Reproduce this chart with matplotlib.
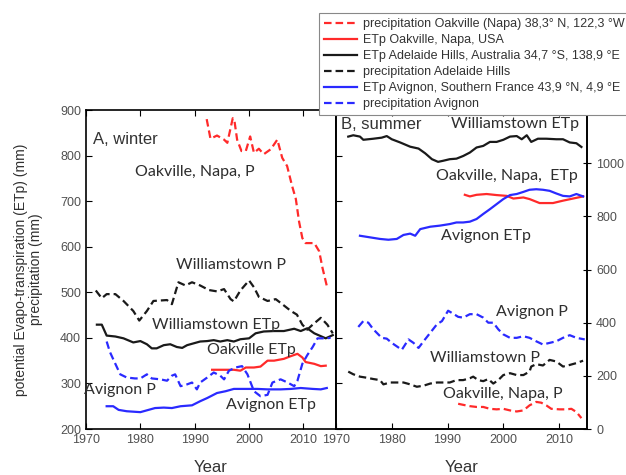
import matplotlib.pyplot as plt
import numpy as np

# フォント
plt.rcParams['font.family'] = ['Liberation Sans', 'DejaVu Sans']

# ---- A, winter (左軸 200-900 mm) ----
w_oak_p_yr = [1992.2, 1992.9, 1994.1, 1995.4, 1996.0, 1997.0, 1997.3, 1997.8, 1998.6, 1999.4, 2000.2,
              2000.9, 2001.8, 2002.7, 2004.0, 2005.2, 2006.1, 2007.0, 2007.9, 2008.6, 2009.2, 2009.8,
              2010.4, 2012.0, 2012.9, 2013.5, 2014.3]
w_oak_p = [880, 837, 844, 835, 828, 882, 877, 835, 810, 810, 842, 806, 815, 803, 814, 835, 795, 777,
           734, 705, 655, 619, 608, 608, 590, 554, 514]

w_oak_et_yr = [1993.2, 1997.2, 1998.4, 1999.4, 2000.9, 2002.1, 2003.4, 2004.6, 2006.4, 2007.7, 2008.9,
               2009.8, 2010.4, 2012.0, 2013.2, 2014.1]
w_oak_et = [330, 330, 328, 335, 335, 337, 350, 350, 354, 360, 365, 357, 347, 343, 338, 339]

w_will_p_yr = [1971.8, 1972.9, 1973.8, 1975.4, 1976.9, 1978.7, 1979.8, 1981.2, 1982.4, 1984.9, 1985.8,
               1987.0, 1988.3, 1989.5, 1991.0, 1992.6, 1994.1, 1995.4, 1996.6, 1997.2, 1998.4, 2000.0,
               2000.9, 2001.8, 2003.4, 2004.9, 2006.1, 2007.7, 2008.8, 2009.8, 2010.7, 2011.7, 2013.2,
               2014.4, 2015.4]
w_will_p = [504, 487, 496, 496, 481, 459, 438, 459, 481, 483, 474, 522, 515, 522, 515, 505, 502, 507,
            485, 480, 504, 526, 511, 490, 481, 485, 474, 459, 451, 429, 418, 429, 444, 429, 410]

w_will_et_yr = [1972.0, 1972.9, 1973.8, 1975.4, 1976.9, 1978.7, 1980.0, 1981.2, 1982.1, 1983.0, 1984.3,
                1985.5, 1986.7, 1987.7, 1988.6, 1989.8, 1991.0, 1992.3, 1993.5, 1994.7, 1996.0, 1997.2,
                1998.4, 2000.0, 2001.2, 2002.7, 2004.6, 2006.4, 2008.3, 2009.5, 2010.7, 2012.0, 2014.1,
                2015.4]
w_will_et = [429, 429, 405, 403, 399, 390, 393, 386, 377, 377, 384, 386, 380, 378, 384, 388, 392, 393,
             395, 392, 395, 392, 397, 399, 410, 414, 415, 415, 420, 415, 421, 410, 399, 406]

w_avi_p_yr = [1973.8, 1974.4, 1975.4, 1976.3, 1977.5, 1979.0, 1980.0, 1981.2, 1982.1, 1983.7, 1984.9,
              1985.8, 1986.4, 1987.4, 1988.6, 1989.5, 1990.4, 1991.0, 1992.3, 1993.5, 1994.7, 1995.4,
              1996.3, 1997.5, 1998.7, 1999.7, 2000.9, 2002.1, 2003.4, 2004.3, 2005.8, 2007.1, 2008.3,
              2008.9, 2009.8, 2010.7, 2011.7, 2012.6, 2014.1, 2015.0]
w_avi_p = [392, 369, 343, 320, 313, 311, 311, 320, 311, 309, 306, 317, 320, 294, 298, 302, 287, 302,
           313, 324, 317, 309, 328, 335, 338, 320, 283, 272, 275, 302, 309, 302, 294, 306, 343, 362,
           380, 399, 399, 400]

w_avi_et_yr = [1973.8, 1975.0, 1976.0, 1977.5, 1980.0, 1981.5, 1982.7, 1984.3, 1985.8, 1987.4, 1989.5,
               1991.0, 1992.3, 1994.1, 1995.7, 1997.2, 1999.7, 2001.5, 2003.4, 2005.8, 2007.7, 2009.5,
               2011.7, 2013.2, 2014.3]
w_avi_et = [250, 250, 242, 239, 237, 242, 246, 247, 246, 250, 252, 261, 268, 279, 283, 288, 288, 288,
            287, 287, 288, 290, 288, 287, 290]

# ---- B, summer (右軸 0-1200 mm) ----
s_will_et_yr = [1972.2, 1973.1, 1974.3, 1974.9, 1976.7, 1978.2, 1979.1, 1980.0, 1981.5, 1983.3, 1984.8,
                1986.0, 1987.2, 1988.3, 1989.2, 1990.4, 1991.6, 1992.8, 1994.0, 1995.2, 1996.4, 1997.6,
                1998.8, 2000.0, 2001.2, 2002.4, 2003.3, 2004.2, 2005.0, 2006.2, 2007.7, 2009.5, 2010.7,
                2011.9, 2013.1, 2014.0]
s_will_et = [1100, 1105, 1100, 1088, 1092, 1096, 1102, 1090, 1078, 1062, 1055, 1037, 1015, 1005, 1009,
             1015, 1017, 1027, 1040, 1059, 1065, 1080, 1080, 1088, 1100, 1102, 1090, 1105, 1080, 1092,
             1092, 1090, 1090, 1078, 1075, 1061]

s_oak_et_yr = [1993.1, 1994.0, 1995.2, 1997.0, 1998.8, 2000.6, 2001.8, 2003.6, 2004.7, 2006.5, 2007.7,
               2008.9, 2010.7, 2012.5, 2014.3]
s_oak_et = [881, 875, 881, 884, 880, 877, 867, 871, 865, 850, 850, 850, 859, 867, 875]

s_avi_et_yr = [1974.3, 1976.1, 1977.9, 1979.4, 1980.9, 1982.1, 1983.3, 1984.2, 1985.1, 1986.9, 1988.6,
               1990.4, 1991.6, 1992.8, 1994.0, 1995.2, 1996.4, 1997.6, 1998.8, 2000.0, 2001.2, 2002.4,
               2003.6, 2004.7, 2005.9, 2007.1, 2008.3, 2009.5, 2010.7, 2011.9, 2013.1, 2014.3]
s_avi_et = [727, 721, 715, 712, 715, 730, 735, 727, 752, 761, 765, 771, 777, 777, 780, 790, 809, 827,
            846, 865, 880, 884, 892, 900, 902, 900, 896, 886, 877, 875, 884, 875]

s_avi_p_yr = [1974.0, 1974.9, 1975.8, 1976.7, 1978.2, 1979.1, 1980.0, 1981.8, 1983.0, 1983.9, 1984.8,
              1985.7, 1986.9, 1988.1, 1989.0, 1990.1, 1991.0, 1991.9, 1992.8, 1994.0, 1995.2, 1996.4,
              1997.3, 1998.2, 1999.1, 2000.0, 2001.2, 2002.4, 2003.6, 2004.7, 2005.9, 2007.1, 2008.3,
              2009.5, 2010.7, 2011.9, 2013.1, 2014.6]
s_avi_p = [384, 406, 400, 375, 343, 340, 324, 298, 337, 324, 305, 330, 362, 394, 406, 445, 434, 422,
           419, 432, 432, 419, 400, 400, 375, 356, 343, 343, 349, 343, 330, 318, 324, 330, 343, 353,
           343, 337]

s_will_p_yr = [1972.2, 1973.1, 1974.3, 1975.5, 1976.7, 1977.9, 1978.5, 1979.7, 1980.9, 1982.1, 1983.3,
               1984.5, 1985.7, 1986.9, 1988.1, 1989.2, 1990.4, 1991.6, 1992.8, 1994.0, 1994.6, 1995.5,
               1996.4, 1997.3, 1998.2, 1999.1, 2000.0, 2001.2, 2002.4, 2003.6, 2004.7, 2005.0, 2005.9,
               2007.1, 2008.3, 2009.5, 2010.7, 2011.9, 2013.1, 2014.3]
s_will_p = [216, 206, 197, 193, 188, 184, 168, 175, 175, 175, 168, 159, 163, 171, 175, 175, 175, 184,
            184, 191, 197, 184, 180, 188, 171, 184, 203, 210, 203, 203, 216, 235, 244, 239, 260, 254,
            235, 241, 248, 257]

s_oak_p_yr = [1991.9, 1992.8, 1994.0, 1995.2, 1996.4, 1997.6, 1998.8, 2000.0, 2001.2, 2002.4, 2003.6,
              2004.7, 2005.9, 2006.8, 2007.7, 2008.6, 2010.1, 2011.3, 2012.2, 2013.1, 2014.0]
s_oak_p = [95, 91, 86, 83, 83, 76, 74, 76, 70, 66, 70, 89, 102, 99, 89, 76, 74, 74, 76, 64, 41]

legend_labels = ['precipitation Oakville (Napa) 38,3° N, 122,3 °W',
                 'ETp Oakville, Napa, USA',
                 'ETp Adelaide Hills, Australia 34,7 °S, 138,9 °E',
                 'precipitation Adelaide Hills',
                 'ETp Avignon, Southern France 43,9 °N, 4,9 °E',
                 'precipitation Avignon']

red = '#ff2a2a'
blue = '#2a2aff'
black = '#1a1a1a'
grey = '#505050'
dash = (0, (3.4, 1.8))
lw = 1.6
note_font = dict(family=['Lato', 'DejaVu Sans'], fontsize=11.5, color='#2e2e2e')

fig = plt.figure(figsize=(6.26, 4.75), dpi=100)
axA = fig.add_axes([0.1374, 0.0968, 0.3994, 0.6716])
axB = fig.add_axes([0.5367, 0.0968, 0.4010, 0.6716])
axB2 = axB.twinx()

# A, winter
l1, = axA.plot(w_oak_p_yr, w_oak_p, color=red, lw=lw, ls=dash)
l2, = axA.plot(w_oak_et_yr, w_oak_et, color=red, lw=lw)
l3, = axA.plot(w_will_et_yr, w_will_et, color=black, lw=lw)
l4, = axA.plot(w_will_p_yr, w_will_p, color=black, lw=lw, ls=dash)
l5, = axA.plot(w_avi_et_yr, w_avi_et, color=blue, lw=lw)
l6, = axA.plot(w_avi_p_yr, w_avi_p, color=blue, lw=lw, ls=dash)
axA.set_xlim(1970, 2016)
axA.set_ylim(200, 900)
axA.set_xticks([1970, 1980, 1990, 2000, 2010])
axA.set_yticks(np.arange(200, 901, 100))
axA.tick_params(direction='in', top=True, right=False, labelsize=9, labelcolor=grey, length=4)
axA.set_xlabel('Year', fontsize=12, color='#333333', labelpad=10)
axA.set_ylabel('potential Evapo-transpiration (ETp) (mm)\nprecipitation (mm)', fontsize=10,
               color='#303030', labelpad=12, linespacing=1.15)

axA.text(1971.3, 836, 'A, winter', fontsize=12, color='#333333', va='center')
axA.text(1990.0, 764, 'Oakville, Napa, P', ha='center', va='center', **note_font)
axA.text(1996.7, 560, 'Williamstown P', ha='center', va='center', **note_font)
axA.text(1993.9, 428, 'Williamstown ETp', ha='center', va='center', **note_font)
axA.text(2000.4, 373, 'Oakville ETp', ha='center', va='center', **note_font)
axA.text(1976.3, 286, 'Avignon P', ha='center', va='center', **note_font)
axA.text(2004.0, 253, 'Avignon ETp', ha='center', va='center', **note_font)

# B, summer
axB2.plot(s_oak_p_yr, s_oak_p, color=red, lw=lw, ls=dash)
axB2.plot(s_oak_et_yr, s_oak_et, color=red, lw=lw)
axB2.plot(s_will_et_yr, s_will_et, color=black, lw=lw)
axB2.plot(s_will_p_yr, s_will_p, color=black, lw=lw, ls=dash)
axB2.plot(s_avi_et_yr, s_avi_et, color=blue, lw=lw)
axB2.plot(s_avi_p_yr, s_avi_p, color=blue, lw=lw, ls=dash)
axB.set_xlim(1970, 2015)
axB.set_ylim(200, 900)
axB.set_yticks(np.arange(200, 901, 100))
axB.set_xticks([1970, 1980, 1990, 2000, 2010])
axB.tick_params(direction='in', top=True, labelleft=False, labelsize=9, labelcolor=grey, length=4)
axB.set_xlabel('Year', fontsize=12, color='#333333', labelpad=10)
axB2.set_ylim(0, 1200)
axB2.set_yticks([0, 200, 400, 600, 800, 1000])
axB2.tick_params(direction='inout', labelsize=9, labelcolor=grey, length=6)

axB2.text(1970.9, 1147, 'B, summer', fontsize=12, color='#333333', va='center')
axB2.text(2002.1, 1147, 'Williamstown ETp', ha='center', va='center', **note_font)
axB2.text(2000.7, 951, 'Oakville, Napa,  ETp', ha='center', va='center', **note_font)
axB2.text(1996.9, 727, 'Avignon ETp', ha='center', va='center', **note_font)
axB2.text(2005.2, 440, 'Avignon P', ha='center', va='center', **note_font)
axB2.text(1996.8, 267, 'Williamstown P', ha='center', va='center', **note_font)
axB2.text(1999.9, 132, 'Oakville, Napa, P', ha='center', va='center', **note_font)

for ax in (axA, axB, axB2):
    for s in ax.spines.values():
        s.set_linewidth(1.2)

# 凡例 (右端は図の外へはみ出す)
leg = fig.legend([l1, l2, l3, l4, l5, l6], legend_labels, loc='upper left',
                 bbox_to_anchor=(319 / 626, 1 - 13 / 475), borderaxespad=0, fontsize=9,
                 handlelength=2.6, handletextpad=0.5, labelspacing=0.32, borderpad=0.4,
                 fancybox=False, framealpha=1, edgecolor='#888888')
leg.get_frame().set_linewidth(0.8)
for t in leg.get_texts():
    t.set_color('#333333')

fig.savefig('out.png', dpi=100)
